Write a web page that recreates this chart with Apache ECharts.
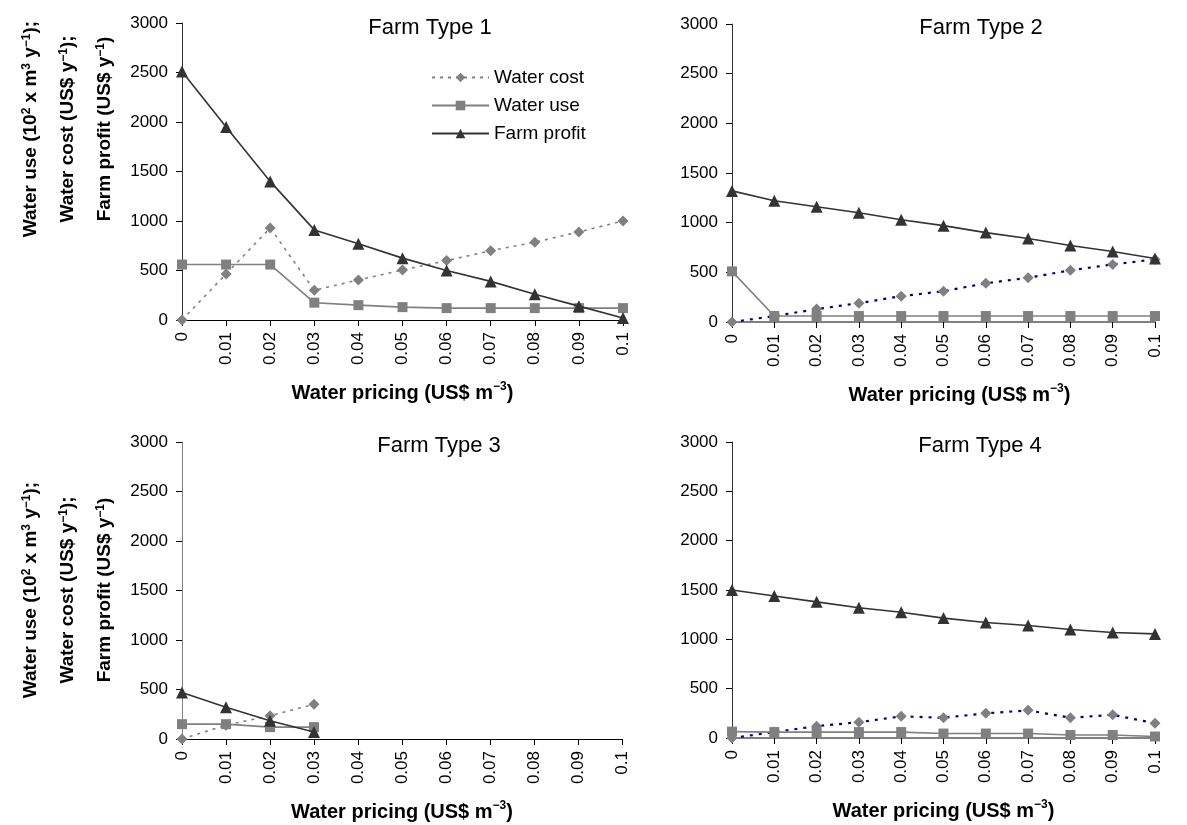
<!DOCTYPE html>
<html>
<head>
<meta charset="utf-8">
<script src="https://cdn.jsdelivr.net/npm/echarts@6/dist/echarts.min.js"></script>
<style>html,body{margin:0;padding:0;background:#fff}#c{width:1187px;height:825px}</style>
</head>
<body>
<div id="c"></div>
<script>
const pricing = ['0','0.01','0.02','0.03','0.04','0.05','0.06','0.07','0.08','0.09','0.1'];
const panelTitles = ['Farm Type 1','Farm Type 2','Farm Type 3','Farm Type 4'];
const seriesNames = ['Water cost','Water use','Farm profit'];

const ft1Cost   = [0, 465, 930, 300, 405, 505, 600, 700, 785, 890, 1000];
const ft1Use    = [560, 560, 560, 175, 150, 130, 120, 120, 120, 120, 120];
const ft1Profit = [2510, 1950, 1400, 910, 770, 625, 500, 390, 260, 140, 20];

const ft2Cost   = [0, 60, 130, 190, 260, 310, 390, 445, 520, 580, 630];
const ft2Use    = [510, 60, 60, 60, 60, 60, 60, 60, 60, 60, 60];
const ft2Profit = [1320, 1220, 1160, 1100, 1030, 970, 900, 840, 770, 710, 640];

const ft3Cost   = [0, 140, 235, 350];
const ft3Use    = [150, 150, 120, 120];
const ft3Profit = [470, 320, 185, 70];

const ft4Cost   = [0, 60, 120, 160, 220, 205, 250, 280, 205, 235, 150];
const ft4Use    = [65, 60, 60, 60, 60, 45, 45, 45, 30, 30, 15];
const ft4Profit = [1500, 1440, 1380, 1320, 1275, 1215, 1170, 1140, 1100, 1070, 1055];

const panels = [
  [ft1Cost, ft1Use, ft1Profit],
  [ft2Cost, ft2Use, ft2Profit],
  [ft3Cost, ft3Use, ft3Profit],
  [ft4Cost, ft4Use, ft4Profit]
];

const FONT = 'Liberation Sans, Arial, sans-serif';
const grids = [
  {left: 182, right: 564, top: 23, height: 297, outerBoundsMode: 'none', containLabel: false},
  {left: 732, right: 32, top: 24, height: 298, outerBoundsMode: 'none', containLabel: false},
  {left: 182, right: 565, top: 442, height: 297, outerBoundsMode: 'none', containLabel: false},
  {left: 732, right: 32, top: 442, height: 296, outerBoundsMode: 'none', containLabel: false}
];
const titlePos = [[425, 12], [976, 12], [434, 430], [975, 430]];
const costColor = ['#808080', '#000080', '#808080', '#000080'];
const xLineColor = ['#000', '#808080', '#000', '#808080'];
const yLineColor = ['#333', '#333', '#808080', '#333'];

const xName = '{b|Water pricing (US$ m}{s|\u22123}{b|)}';
const xRich = {
  b: {fontSize: 20, fontWeight: 'bold', fontFamily: FONT, color: '#000', lineHeight: 24},
  s: {fontSize: 12, fontWeight: 'bold', fontFamily: FONT, color: '#000', lineHeight: 14, verticalAlign: 'top'}
};

const xAxes = [], yAxes = [], series = [], titles = [];
for (let i = 0; i < 4; i++) {
  titles.push({
    text: panelTitles[i], left: titlePos[i][0], top: titlePos[i][1], textAlign: 'center',
    textStyle: {fontSize: 22, fontWeight: 'normal', fontFamily: FONT, color: '#000'}
  });
  xAxes.push({
    gridIndex: i, type: 'category', data: pricing, boundaryGap: false,
    axisLine: {lineStyle: {color: xLineColor[i], width: i % 2 ? 2 : 1}},
    axisTick: {show: true, interval: 0, length: 6, lineStyle: {color: '#000'}},
    axisLabel: {interval: 0, rotate: 90, margin: 12, fontSize: 17, fontFamily: FONT, color: '#000'},
    splitLine: {show: false},
    name: xName, nameLocation: 'middle', nameGap: 61, nameMoveOverlap: false,
    nameTextStyle: {rich: xRich, padding: i === 1 ? [0, 0, 0, 32] : 0}
  });
  yAxes.push({
    gridIndex: i, type: 'value', min: 0, max: 3000, interval: 500,
    axisLine: {show: true, lineStyle: {color: yLineColor[i], width: 1}},
    axisTick: {show: true, length: 6, lineStyle: {color: '#000'}},
    axisLabel: {margin: 14, fontSize: 17, fontFamily: FONT, color: '#000', formatter: v => String(v)},
    splitLine: {show: false}
  });
  const [cost, use, profit] = panels[i];
  series.push({
    name: seriesNames[0], type: 'line', xAxisIndex: i, yAxisIndex: i, data: cost,
    symbol: 'diamond', symbolSize: 11, showAllSymbol: true,
    lineStyle: {color: costColor[i], width: i % 2 ? 2.2 : 1.6, type: i % 2 ? [3, 6] : [3, 5]},
    itemStyle: {color: '#808080'}, z: 3
  });
  series.push({
    name: seriesNames[1], type: 'line', xAxisIndex: i, yAxisIndex: i, data: use,
    symbol: 'rect', symbolSize: 10, showAllSymbol: true,
    lineStyle: {color: '#808080', width: 1.6},
    itemStyle: {color: '#808080'}, z: 4
  });
  series.push({
    name: seriesNames[2], type: 'line', xAxisIndex: i, yAxisIndex: i, data: profit,
    symbol: 'triangle', symbolSize: 12, showAllSymbol: true,
    lineStyle: {color: '#333333', width: 1.6},
    itemStyle: {color: '#333333'}, z: 5
  });
}

const yTitle = '{b|Water use (10}{s|2}{b| x m}{s|3}{b| y}{s|\u22121}{b|);}\n' +
               '{b|Water cost (US$ y}{s|\u22121}{b|);}\n' +
               '{b|Farm profit (US$ y}{s|\u22121}{b|)}';
const yRich = {
  b: {fontSize: 19, fontWeight: 'bold', fontFamily: FONT, fill: '#000', lineHeight: 37},
  s: {fontSize: 12, fontWeight: 'bold', fontFamily: FONT, fill: '#000', lineHeight: 37, height: 28, verticalAlign: 'top'}
};
function yTitleGraphic(cy) {
  return {
    type: 'text', x: 68, y: cy, rotation: Math.PI / 2,
    style: {text: yTitle, rich: yRich, align: 'center', verticalAlign: 'middle', x: 0, y: 0}
  };
}

const chart = echarts.init(document.getElementById('c'));
chart.setOption({
  animation: false,
  backgroundColor: '#fff',
  title: titles,
  grid: grids,
  xAxis: xAxes,
  yAxis: yAxes,
  series: series,
  legend: {
    data: seriesNames, orient: 'vertical', left: 426, top: 63,
    itemWidth: 57, itemHeight: 12, itemGap: 9,
    textStyle: {fontSize: 19, fontFamily: FONT, color: '#000'}
  },
  graphic: [yTitleGraphic(129), yTitleGraphic(590)]
});
</script>
</body>
</html>
